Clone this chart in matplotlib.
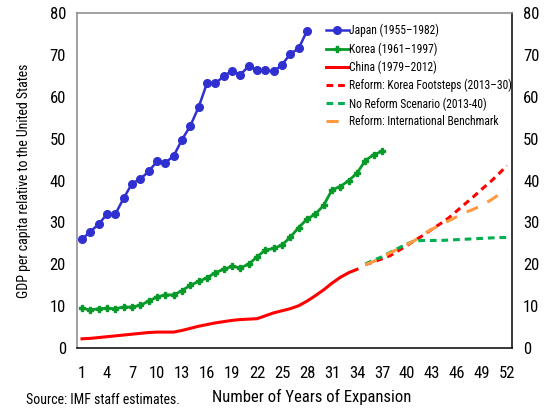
import matplotlib
matplotlib.use("Agg")
import matplotlib.pyplot as plt

plt.rcParams['font.family'] = ["Roboto Condensed", "Liberation Sans", "DejaVu Sans"]

japan = [26.0, 27.8, 29.6, 32.0, 32.0, 35.8, 39.3, 40.4, 42.2, 44.6, 44.3, 45.9,
         49.8, 53.1, 57.6, 63.3, 63.3, 64.9, 66.3, 65.3, 67.4, 66.4, 66.4, 66.1,
         67.7, 70.3, 71.6, 75.8]
korea = [9.5, 9.1, 9.4, 9.5, 9.4, 9.8, 9.8, 10.2, 11.2, 12.2, 12.7, 12.7, 13.7,
         15.0, 15.9, 16.8, 18.0, 18.8, 19.5, 19.2, 20.0, 21.8, 23.4, 23.8, 24.6,
         26.5, 28.8, 30.8, 32.0, 34.1, 37.8, 38.6, 40.0, 41.8, 44.8, 46.2, 47.0]
china = [2.2, 2.3, 2.5, 2.7, 2.9, 3.1, 3.3, 3.5, 3.7, 3.8, 3.8, 3.8, 4.2, 4.7,
         5.2, 5.6, 6.0, 6.3, 6.6, 6.8, 6.9, 7.0, 7.7, 8.4, 8.9, 9.4, 10.1, 11.2,
         12.5, 13.9, 15.5, 16.9, 18.0, 18.8]
proj_start = 35
reform_korea = [19.9, 20.6, 21.3, 22.1, 23.3, 24.5, 25.8, 27.0, 28.4, 29.7, 31.1,
                32.8, 34.5, 36.2, 38.0, 39.7, 41.6, 43.6]
no_reform = [20.1, 21.0, 21.8, 22.9, 23.9, 24.9, 25.6, 25.7, 25.7, 25.7, 25.8,
             25.9, 26.0, 26.1, 26.2, 26.3, 26.4, 26.4]
intl_bench = [19.9, 20.7, 21.6, 22.8, 23.7, 24.7, 25.8, 27.3, 28.4, 29.4, 30.4,
              31.4, 32.4, 33.2, 34.1, 35.3, 36.6, 37.8]
xticks = list(range(1, 53, 3))
yticks = list(range(0, 81, 10))

labels = ["Japan (1955\u20131982)", "Korea (1961\u20131997)", "China (1979\u20132012)",
          "Reform: Korea Footsteps (2013\u201330)", "No Reform Scenario (2013-40)",
          "Reform: International Benchmark"]

fig = plt.figure(figsize=(5.49, 4.09), dpi=100)
ax = fig.add_axes([77/549, 1-348/409, (512-77)/549, (348-13.3)/409])

def xs(n, start=1):
    return list(range(start, start + n))

ax.plot(xs(len(japan)), japan, color="#3030D0", lw=1.8, marker="o", ms=5.5, label=labels[0])
ax.plot(xs(len(korea)), korea, color="#089A28", lw=2, marker="P", ms=5, label=labels[1])
ax.plot(xs(len(china)), china, color="#FF0000", lw=2.2, label=labels[2])
ax.plot(xs(len(reform_korea), proj_start), reform_korea, color="#FF0000", lw=2.2,
        dashes=(2.2, 1.6), label=labels[3])
ax.plot(xs(len(no_reform), proj_start), no_reform, color="#00B050", lw=2.2,
        dashes=(2.2, 1.6), label=labels[4])
ax.plot(xs(len(intl_bench), proj_start), intl_bench, color="#FF9A40", lw=2.2,
        dashes=(4, 3.5), label=labels[5])

ax.set_xlim(0.4, 52.6)
ax.set_ylim(0, 80)
ax.set_xticks(xticks)
ax.set_yticks(yticks)
ax.tick_params(axis="x", length=0, labelsize=12, pad=13)
ax.tick_params(axis="y", length=0, labelsize=12, labelleft=True, labelright=True, pad=8)
for s in ["left", "top"]:
    ax.spines[s].set_color("#888888")
for s in ["bottom", "right"]:
    ax.spines[s].set_color("black")
for s in ax.spines.values():
    s.set_linewidth(1.1)

ax.set_ylabel("GDP per capita relative to the United States", fontsize=10, labelpad=13)

leg = ax.legend(loc="upper left", bbox_to_anchor=(0.572, 0.968), frameon=False,
                fontsize=8.3, handlelength=2.0, handletextpad=0.05,
                labelspacing=0.42, borderaxespad=0, borderpad=0)

fig.text(26/549, 1-400/409, "Source: IMF staff estimates.", fontsize=10, va="center", ha="left")
fig.text(312/549, 1-397/409, "Number of Years of Expansion", fontsize=12, va="center", ha="center")

fig.savefig("out.png", dpi=100)
